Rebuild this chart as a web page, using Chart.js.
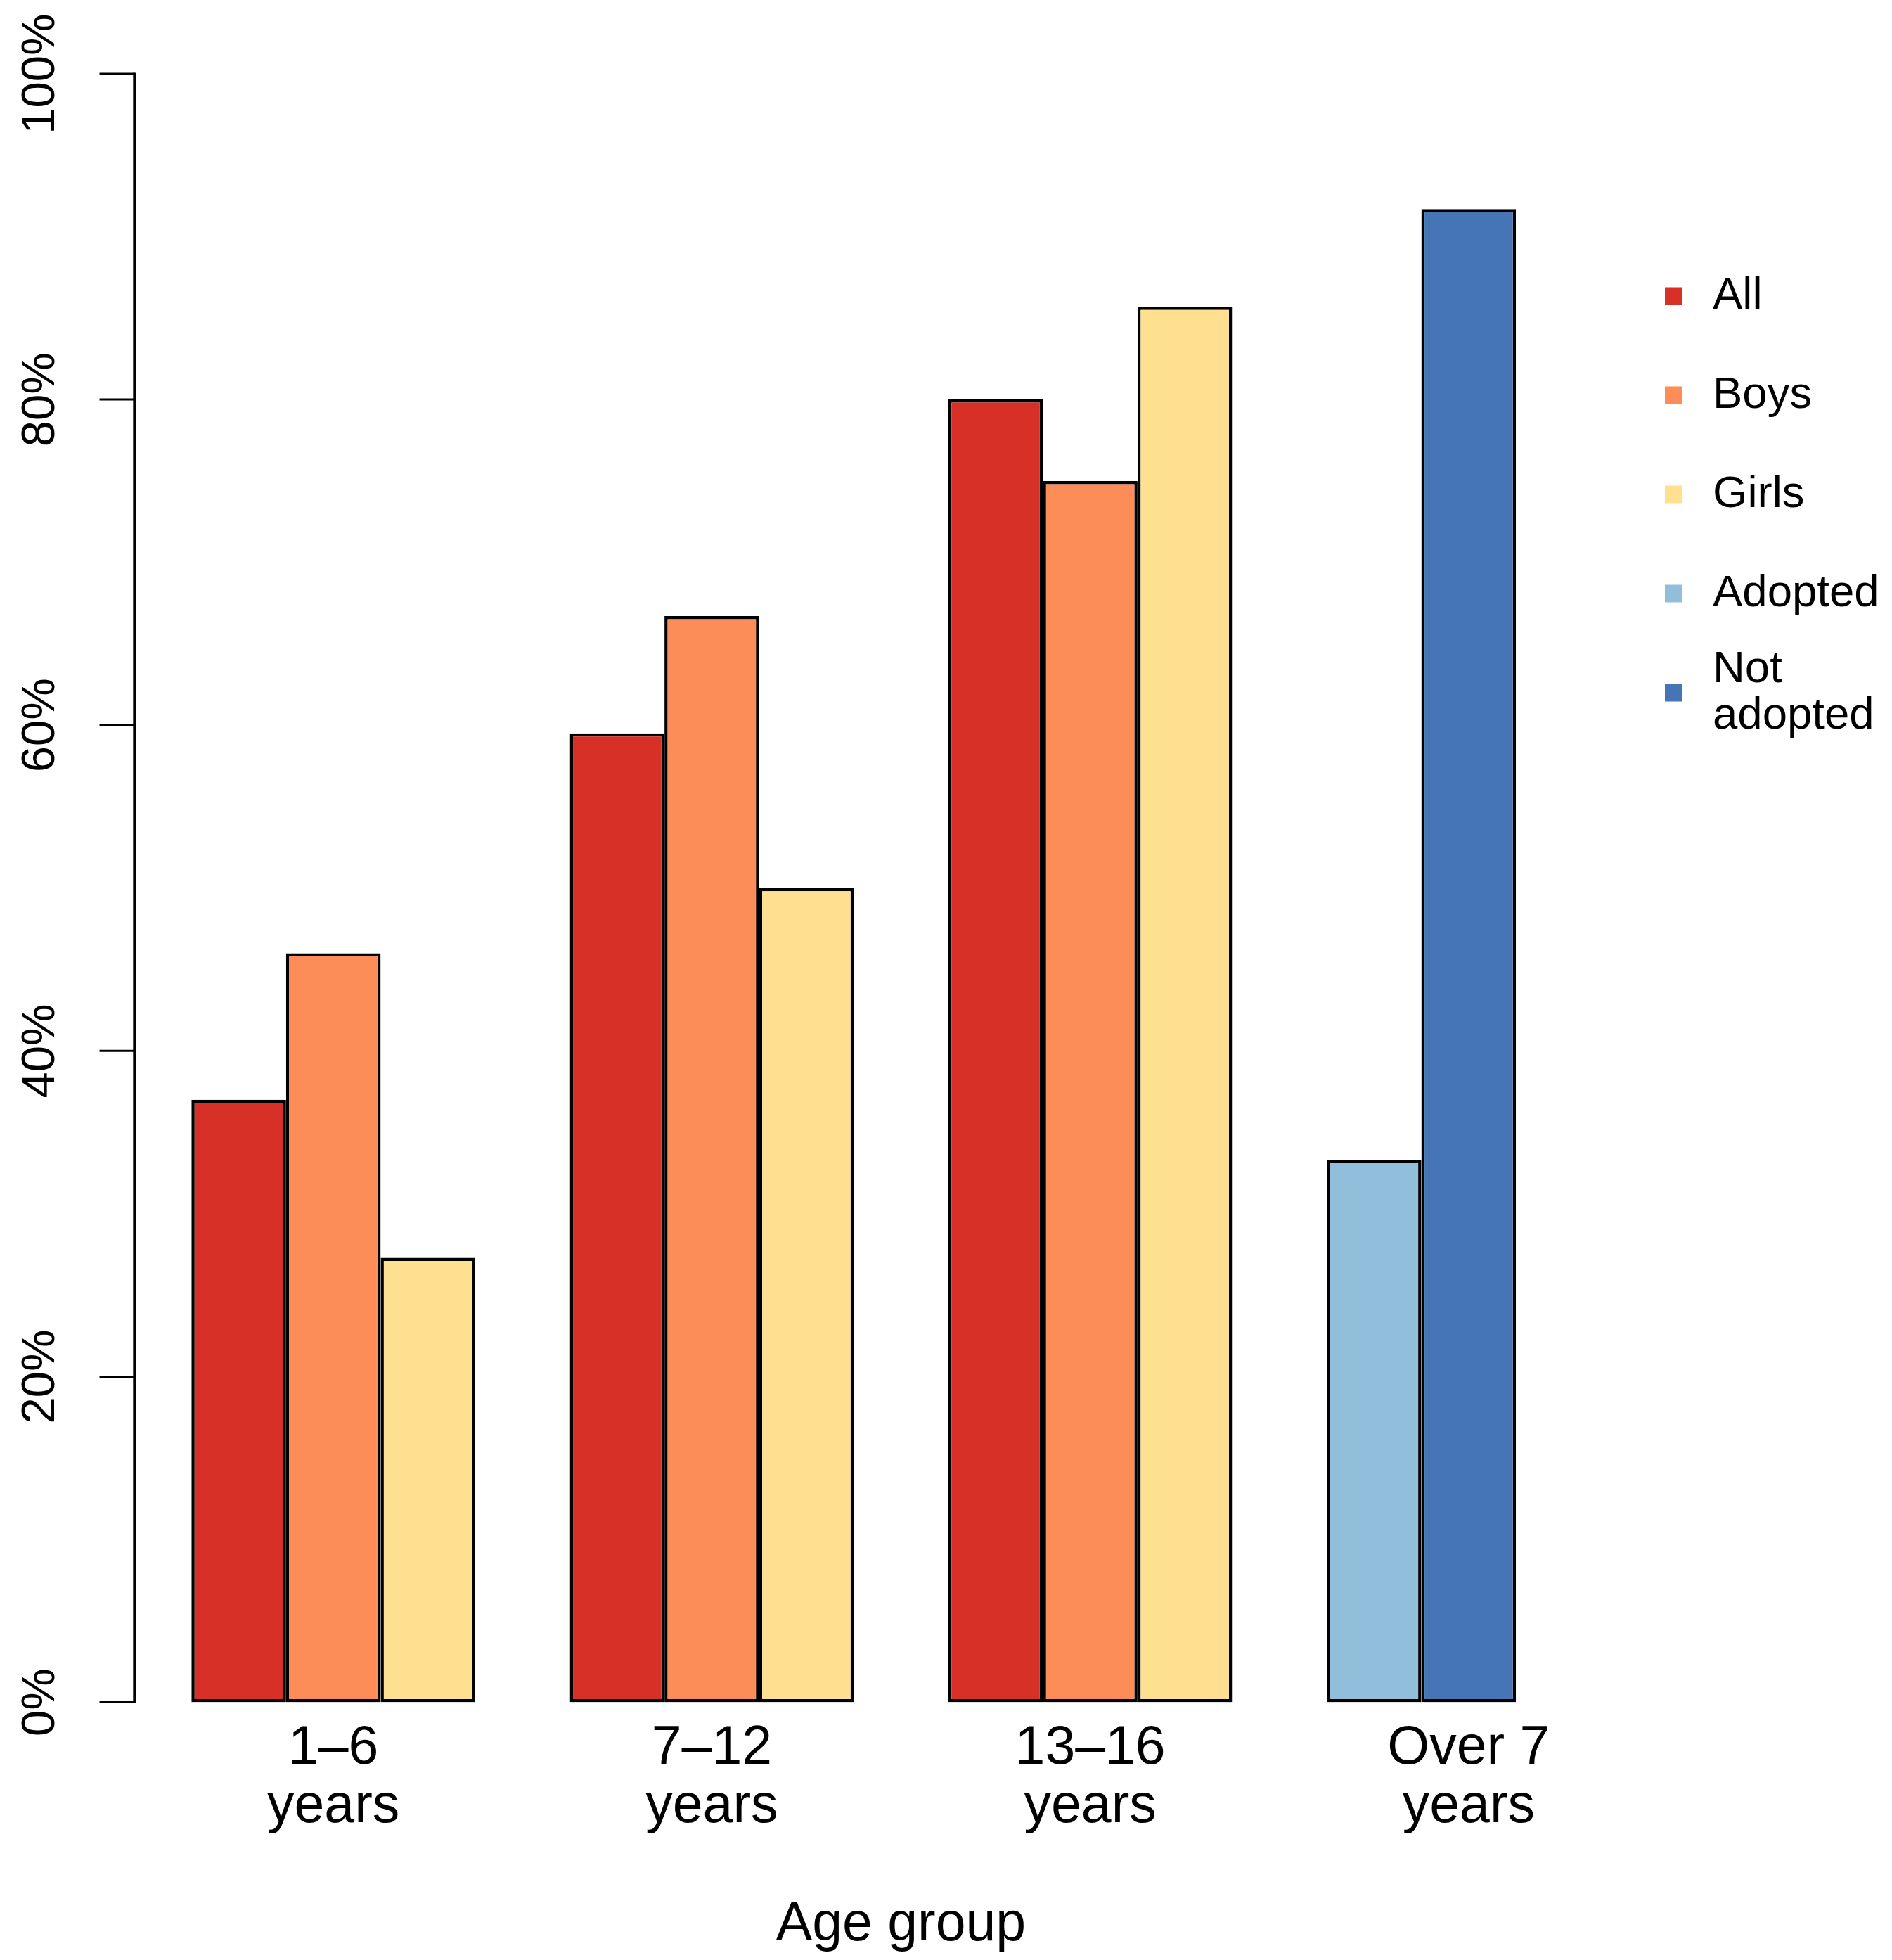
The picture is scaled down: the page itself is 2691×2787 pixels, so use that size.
<!DOCTYPE html>
<html><head><meta charset="utf-8">
<script src="https://cdn.jsdelivr.net/npm/chart.js@4"></script>
<style>html,body{margin:0;padding:0;background:#fff}#wrap{width:2691px;height:2787px;position:relative}</style>
</head><body><div id="wrap"><canvas id="c" width="2691" height="2787"></canvas></div>
<script>
const categories = [['1–6', 'years'], ['7–12', 'years'], ['13–16', 'years'], ['Over 7', 'years']];
const seriesNames = ['All', 'Boys', 'Girls', 'Adopted', 'Not adopted'];
const allValues = [37, 59.5, 80, null];
const boysValues = [46, 66.7, 75, null];
const girlsValues = [27.3, 50, 85.7, null];
const adoptedValues = [null, null, null, 33.3];
const notAdoptedValues = [null, null, null, 91.7];
const yTickValues = [0, 20, 40, 60, 80, 100];
const yTickLabels = ['0%', '20%', '40%', '60%', '80%', '100%'];
const xTitle = 'Age group';

const FONT = "'Liberation Sans', Arial, Helvetica, sans-serif";
const colors = ['#D73027', '#FC8D59', '#FEE090', '#91BFDB', '#4575B4'];
const slots = ['s1', 's2', 's3', 's1', 's2'];
const seriesValues = [allValues, boysValues, girlsValues, adoptedValues, notAdoptedValues];

const datasets = seriesNames.map((name, i) => ({
  label: name,
  data: seriesValues[i],
  stack: slots[i],
  backgroundColor: colors[i],
  borderColor: '#000',
  borderWidth: 4.5,
  borderSkipped: false,
  barPercentage: 1,
  categoryPercentage: 0.75
}));

const yAxisPlugin = {
  id: 'rYAxis',
  afterDraw(chart) {
    const ctx = chart.ctx, y = chart.scales.y, ca = chart.chartArea;
    const unit = ca.width / (categories.length * 4);
    const x0 = ca.left - unit * 0.1;
    ctx.save();
    ctx.strokeStyle = '#000';
    ctx.lineWidth = 4.5;
    ctx.beginPath();
    ctx.moveTo(x0, y.getPixelForValue(yTickValues[0]) + 1.5);
    ctx.lineTo(x0, y.getPixelForValue(yTickValues[yTickValues.length - 1]) - 1.5);
    ctx.stroke();
    ctx.lineWidth = 3;
    ctx.fillStyle = '#000';
    ctx.font = '67px ' + FONT;
    ctx.textAlign = 'center';
    ctx.textBaseline = 'middle';
    yTickValues.forEach((v, i) => {
      const py = y.getPixelForValue(v);
      ctx.beginPath();
      ctx.moveTo(x0 - 50, py);
      ctx.lineTo(x0, py);
      ctx.stroke();
      ctx.save();
      ctx.translate(x0 - 133, py);
      ctx.rotate(-Math.PI / 2);
      ctx.fillText(yTickLabels[i], 0, 0);
      ctx.restore();
    });
    ctx.restore();
  }
};

const legendPlugin = {
  id: 'rLegend',
  afterDraw(chart) {
    const ctx = chart.ctx;
    const boxX = 2368, box = 25, textX = 2436, step = 141, first = 421, lh = 66;
    ctx.save();
    ctx.font = '63.5px ' + FONT;
    ctx.textAlign = 'left';
    ctx.textBaseline = 'middle';
    chart.data.datasets.forEach((ds, i) => {
      const cy = first + step * i;
      ctx.fillStyle = ds.backgroundColor;
      ctx.fillRect(boxX, cy - box / 2, box, box);
      ctx.fillStyle = '#000';
      const words = ds.label.split(' ');
      if (words.length > 1) {
        ctx.fillText(words[0], textX, cy - lh / 2);
        ctx.fillText(words.slice(1).join(' '), textX, cy + lh / 2);
      } else {
        ctx.fillText(ds.label, textX, cy);
      }
    });
    ctx.restore();
  }
};

new Chart(document.getElementById('c'), {
  type: 'bar',
  data: { labels: categories, datasets },
  options: {
    responsive: false,
    devicePixelRatio: 1,
    animation: false,
    layout: { padding: { left: 205, right: 333, top: 105, bottom: 3.5 } },
    plugins: { legend: { display: false }, tooltip: { enabled: false } },
    scales: {
      x: {
        type: 'category',
        offset: true,
        grid: { display: false, drawTicks: false },
        border: { display: false },
        ticks: {
          color: '#000',
          font: { family: FONT, size: 77, lineHeight: 1.078 },
          padding: 25,
          maxRotation: 0,
          autoSkip: false
        },
        title: {
          display: true,
          text: xTitle,
          color: '#000',
          font: { family: FONT, size: 77, lineHeight: 1.2 },
          padding: { top: 54.5, bottom: 0 }
        }
      },
      y: {
        display: false,
        min: 0,
        max: 100,
        stacked: false
      }
    }
  },
  plugins: [yAxisPlugin, legendPlugin]
});
</script>
</body></html>
